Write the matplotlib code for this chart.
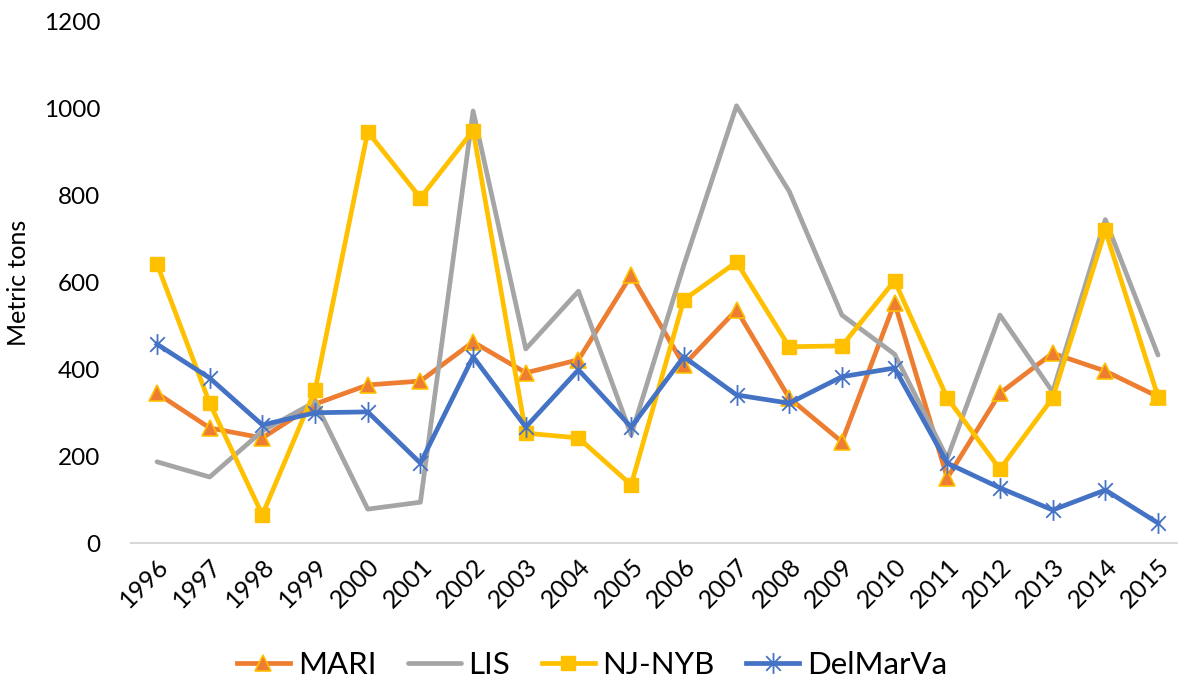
import matplotlib
matplotlib.use("Agg")
import matplotlib.pyplot as plt
from matplotlib.path import Path
import numpy as np

years = [str(y) for y in range(1996, 2016)]
mari = [345, 265, 242, 320, 364, 373, 463, 392, 422, 617, 410, 537, 334, 233, 553, 150, 345, 437, 396, 337]
lis = [187, 152, 258, 325, 78, 94, 995, 447, 580, 249, 640, 1007, 810, 525, 435, 195, 525, 348, 745, 433]
njnyb = [643, 322, 65, 352, 947, 795, 950, 253, 242, 134, 560, 647, 452, 454, 604, 334, 170, 334, 720, 337]
delmarva = [458, 380, 272, 300, 302, 184, 429, 267, 399, 267, 429, 341, 322, 383, 403, 184, 127, 76, 122, 46]
series_names = ["MARI", "LIS", "NJ-NYB", "DelMarVa"]
yticks = [0, 200, 400, 600, 800, 1000, 1200]

plt.rcParams['font.family'] = ['Lato', 'DejaVu Sans']

# Excel-like star marker: X plus vertical bar
star = Path([(-0.7, -0.7), (0.7, 0.7), (-0.7, 0.7), (0.7, -0.7), (0, -1), (0, 1)],
            [Path.MOVETO, Path.LINETO, Path.MOVETO, Path.LINETO, Path.MOVETO, Path.LINETO])

W, H = 1178, 692
fig = plt.figure(figsize=(W / 100, H / 100), dpi=100)
ax = fig.add_axes([131 / W, (H - 543) / H, (1178 - 131) / W, (543 - 22) / H])

x = np.arange(len(years))
lw = 3.4
ax.plot(x, mari, color='#ED7D31', lw=lw, marker='^', ms=12, mfc='#ED7D31', mec='#FFC000', mew=1.2,
        label=series_names[0])
ax.plot(x, lis, color='#A5A5A5', lw=lw, label=series_names[1], solid_capstyle='round')
ax.plot(x, njnyb, color='#FFC000', lw=lw, marker='s', ms=10, mfc='#FFC000', mec='#FFC000',
        label=series_names[2])
ax.plot(x, delmarva, color='#4472C4', lw=lw, marker=star, ms=15, mfc='none', mec='#4472C4', mew=1.3,
        label=series_names[3])

spacing = (1158 - 157) / 19
ax.set_xlim(-(157 - 131) / spacing, 19 + (1178 - 1158) / spacing)
ax.set_ylim(0, 1200)
ax.set_yticks(yticks)
ax.set_yticklabels([str(v) for v in yticks], fontsize=17.5)
ax.set_xticks(x)
ax.set_xticklabels(years, fontsize=18, rotation=45, ha='right', rotation_mode='anchor')
ax.tick_params(axis='y', length=0, pad=22)
ax.tick_params(axis='x', length=0, pad=8)

for s in ['top', 'right', 'left']:
    ax.spines[s].set_visible(False)
ax.spines['bottom'].set_color('#D9D9D9')
ax.spines['bottom'].set_linewidth(1.5)

fig.text(19 / W, 1 - 283 / H, 'Metric tons', fontsize=18, rotation=90, ha='center', va='center')

leg = fig.legend(loc='center', bbox_to_anchor=(592 / W, 1 - 665 / H), ncol=4, frameon=False,
                 fontsize=22.5, handlelength=1.7, handletextpad=0.25, columnspacing=1.0)

fig.savefig('out.png', dpi=100)
